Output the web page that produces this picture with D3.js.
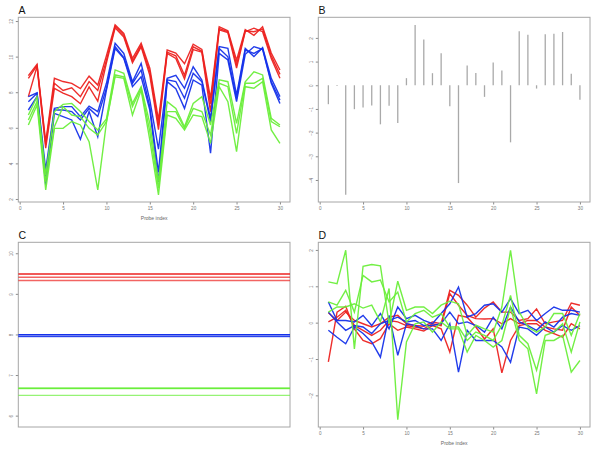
<!DOCTYPE html>
<html><head><meta charset="utf-8">
<script src="https://cdn.jsdelivr.net/npm/d3@7"></script>
<style>body{margin:0;background:#fff}svg{display:block}</style>
</head><body><svg id="c" width="600" height="450"></svg>
<script>
// ---------- data ----------
const probeIndex = [1,2,3,4,5,6,7,8,9,10,11,12,13,14,15,16,17,18,19,20,21,22,23,24,25,26,27,28,29,30];
const xTicks = [0,5,10,15,20,25,30];
const yTicksA = [2,4,6,8,10,12];
const yTicksB = [2,1,0,-1,-2,-3,-4];
const yTicksC = [10,9,8,7,6];
const yTicksD = [2,1,0,-1,-2];

// Panel A: raw intensities per array (3 arrays per group)
const rawRed = [
 [8.93,9.57,5.20,8.78,8.60,8.50,8.20,8.90,8.40,10.05,11.78,11.30,9.90,10.75,9.35,6.45,10.37,10.20,9.60,10.70,10.40,7.65,11.68,11.45,9.80,11.52,11.20,11.68,10.20,9.25],
 [8.78,9.50,5.05,8.50,8.10,8.25,7.75,8.60,8.10,9.80,11.70,11.20,9.75,10.62,9.15,6.15,10.25,10.05,8.95,10.55,10.30,7.35,11.58,11.40,9.55,11.45,11.40,11.55,10.05,9.00],
 [7.75,9.45,4.85,8.22,7.95,7.75,7.35,8.30,7.50,9.65,11.62,11.10,9.65,10.55,8.95,5.90,10.18,9.90,8.75,10.40,10.25,6.90,11.50,11.35,9.35,11.40,11.60,11.40,9.90,8.78]
];
const rawBlue = [
 [7.75,7.97,3.63,7.09,7.19,7.19,6.63,7.22,6.91,8.50,10.75,10.18,8.59,9.62,7.56,4.80,8.78,8.95,8.22,9.43,8.69,6.53,10.56,10.46,7.84,10.46,10.00,10.50,8.78,7.75],
 [7.47,7.94,3.25,7.00,7.00,6.91,6.44,7.09,6.63,8.22,10.56,9.95,8.50,9.25,7.19,3.50,8.69,8.60,7.66,9.06,8.59,6.35,10.46,9.99,7.66,10.37,10.18,10.46,8.59,7.56],
 [7.00,7.75,2.79,6.81,6.63,6.44,5.35,6.91,5.50,8.12,10.46,9.90,8.31,8.87,7.00,2.95,8.59,8.20,7.09,8.69,8.40,4.57,10.18,9.81,7.47,10.13,10.56,10.41,8.50,7.37]
];
const rawGreen = [
 [6.72,7.75,3.35,6.91,7.32,7.37,6.91,6.35,5.88,6.50,9.25,9.06,7.37,8.31,6.25,2.97,7.47,7.09,6.06,7.37,7.75,6.16,8.69,8.59,6.25,8.59,9.15,8.97,6.53,6.16],
 [6.44,7.47,2.97,6.06,7.19,6.72,6.63,5.97,5.60,6.35,8.97,8.87,7.19,8.22,5.78,2.60,6.91,6.91,5.97,7.09,6.91,5.60,8.50,8.31,5.69,8.50,8.50,8.78,6.35,6.06],
 [6.16,7.28,2.51,5.97,5.97,6.35,6.16,5.22,2.51,6.30,8.87,8.78,6.72,8.12,5.31,2.23,6.72,6.53,5.88,6.72,6.63,5.13,8.31,7.47,4.66,8.31,8.22,8.59,5.88,5.13]
];

// Panel B: probe effects
const probeEffect = [-0.80,-0.03,-4.62,-1.01,-0.94,-0.86,-1.65,-0.87,-1.59,0.30,2.54,1.93,0.51,1.35,-0.89,-4.13,0.83,0.52,-0.49,0.96,0.62,-2.41,2.28,2.13,-0.14,2.15,2.18,2.25,0.49,-0.61];

// Panel C: array effects
const arrayRed = [9.49,9.41,9.33];
const arrayBlue = [7.995,7.955,7.95];
const arrayGreen = [6.675,6.67,6.50];

// Panel D: residuals
const resRed = [
 [0.27,0.06,0.29,0.06,-0.03,-0.12,-0.03,0.15,0.20,-0.03,-0.08,-0.10,0.02,-0.03,0.89,0.75,0.48,0.15,0.40,0.57,0.29,0.29,0.06,0.11,0.38,-0.03,0.02,0.06,0.54,0.48],
 [0.02,0.15,0.34,-0.08,-0.21,-0.35,-0.21,0.06,0.02,-0.08,-0.12,-0.17,-0.03,-0.08,0.80,0.48,0.20,0.11,0.10,0.11,-0.03,0.11,-0.03,0.06,0.06,-0.12,-0.17,-0.21,0.43,0.20],
 [-1.08,0.29,0.45,-0.17,-0.49,-0.58,-0.44,-0.03,-0.21,-0.12,-0.17,-0.23,-0.08,-0.17,-0.81,0.20,0.15,-0.12,-0.45,-0.17,-1.38,-0.49,-0.08,-0.03,-0.03,-0.21,-0.30,-0.40,-0.03,-0.17]
];
const resBlue = [
 [0.57,0.06,0.06,0.02,0.20,-0.08,0.25,-0.17,0.43,0.11,0.20,0.06,-0.03,0.25,0.52,0.98,0.15,0.25,0.48,0.52,0.29,0.66,0.25,0.34,0.06,0.25,0.43,0.34,0.34,0.29],
 [0.29,0.02,-0.21,-0.08,-0.12,-0.30,-0.03,0.06,0.15,0.02,0.06,-0.08,-0.08,-0.03,0.29,-0.03,0.02,-0.08,-0.26,0.15,-0.17,0.43,0.02,-0.08,-0.21,0.02,-0.12,0.15,0.25,0.20],
 [-0.21,-0.40,-0.58,-0.12,-0.30,-0.53,-0.95,0.20,-0.90,-0.03,-0.08,-0.17,-0.17,-0.49,-0.03,-1.36,-0.21,-0.49,-0.49,-0.49,-0.67,-1.09,-0.12,-0.17,-0.35,-0.12,-0.26,-0.08,-0.21,-0.08]
];
const resGreen = [
 [1.12,1.07,1.99,-0.72,1.55,1.60,1.56,-0.03,1.14,0.34,0.43,0.43,0.25,0.48,0.59,0.52,-0.35,-0.07,-0.17,-0.26,0.43,1.99,0.29,-0.12,-0.26,-0.12,0.25,0.25,-0.35,0.25],
 [0.57,0.48,0.89,0.29,1.30,1.12,1.17,0.57,0.84,0.02,0.25,0.34,0.15,0.25,-0.12,-0.12,-0.49,-0.26,-0.35,-0.49,-0.07,0.75,-0.35,-0.58,-1.31,-0.35,-0.26,-0.03,-0.81,0.02],
 [0.29,0.43,0.43,0.52,0.40,0.48,0.02,0.94,-2.67,-0.53,-0.03,0.02,-0.26,0.02,-0.17,-0.17,-0.81,-0.35,-0.49,-0.67,-0.49,0.43,-0.49,-0.72,-1.96,-0.49,-0.49,-0.35,-1.36,-1.04]
];

// ---------- drawing ----------
const RED = "#ec2220", BLUE = "#1532ea", GREEN = "#6aee3a";
const svg = d3.select("#c");
svg.append("rect").attr("width",600).attr("height",450).attr("fill","#fff");

function panel(ox, oy, letter, yDomain, yTicks, showX, xLabel){
  const x0 = ox+18.3, x1 = ox+290, y0 = oy+17.3, y1 = oy+202;
  const g = svg.append("g");
  const x = d3.scaleLinear().domain([-0.16,31.16]).range([x0,x1]);
  const y = d3.scaleLinear().domain(yDomain).range([y1,y0]);
  g.append("text").attr("x",ox+18.5).attr("y",oy+13.5).attr("font-family","Liberation Sans, Arial, sans-serif")
    .attr("font-size",10.5).attr("fill","#111").text(letter);
  const fontF = "Liberation Sans, Arial, sans-serif";
  // y axis
  const ya = g.append("g").attr("transform",`translate(${x0},0)`)
    .call(d3.axisLeft(y).tickValues(yTicks).tickSize(2.5).tickFormat(d3.format("d")));
  ya.select(".domain").remove();
  ya.selectAll("line").attr("stroke","#8a8a8a");
  ya.selectAll("text").attr("x",0).attr("dy",0).attr("text-anchor","middle")
    .attr("transform","translate(-5.2,0) rotate(-90)")
    .attr("font-size",4.6).attr("fill","#777").attr("font-family",fontF);
  if(showX){
    const xa = g.append("g").attr("transform",`translate(0,${y1})`)
      .call(d3.axisBottom(x).tickValues(xTicks).tickSize(2.5).tickPadding(2));
    xa.select(".domain").remove();
    xa.selectAll("line").attr("stroke","#8a8a8a");
    xa.selectAll("text").attr("font-size",4.6).attr("fill","#777").attr("font-family",fontF);
  }
  if(xLabel){
    g.append("text").attr("x",(x0+x1)/2).attr("y",y1+17.5).attr("text-anchor","middle")
      .attr("font-size",5).attr("fill","#666").attr("font-family",fontF).text(xLabel);
  }
  g.append("rect").attr("x",x0).attr("y",y0).attr("width",x1-x0).attr("height",y1-y0)
    .attr("fill","none").attr("stroke","#a6a6a6").attr("stroke-width",1);
  return {g,x,y,x0,x1};
}

function drawLines(p, sets){
  const line = d3.line().x((d,i)=>p.x(probeIndex[i])).y(d=>p.y(d));
  sets.forEach(([arr,col])=>{
    arr.forEach(s=>{
      p.g.append("path").attr("d",line(s)).attr("fill","none").attr("stroke",col)
        .attr("stroke-width",1.4).attr("stroke-linejoin","miter").attr("stroke-opacity",0.95);
    });
  });
}

// A
const pA = panel(0,0,"A",[1.83,12.21],yTicksA,true,"Probe index");
drawLines(pA,[[rawRed,RED],[rawBlue,BLUE],[rawGreen,GREEN]]);

// B
const pB = panel(300,0,"B",[-4.93,2.87],yTicksB,true,null);
pB.g.selectAll("line.seg").data(probeEffect).enter().append("line").attr("class","seg")
  .attr("x1",(d,i)=>pB.x(probeIndex[i])).attr("x2",(d,i)=>pB.x(probeIndex[i]))
  .attr("y1",pB.y(0)).attr("y2",d=>pB.y(d))
  .attr("stroke","#a9a9a9").attr("stroke-width",1.3);

// C
const pC = panel(0,225,"C",[5.72,10.27],yTicksC,false,null);
const cOp = [1,0.7,0.7];
[[arrayRed,RED],[arrayBlue,BLUE],[arrayGreen,GREEN]].forEach(([arr,col])=>{
  arr.forEach((v,i)=>{
    pC.g.append("line").attr("x1",pC.x0).attr("x2",pC.x1).attr("y1",pC.y(v)).attr("y2",pC.y(v))
      .attr("stroke",col).attr("stroke-width",1.4).attr("stroke-opacity",cOp[i]);
  });
});

// D
const pD = panel(300,225,"D",[-2.87,2.21],yTicksD,true,"Probe index");
drawLines(pD,[[resRed,RED],[resBlue,BLUE],[resGreen,GREEN]]);
</script></body></html>
